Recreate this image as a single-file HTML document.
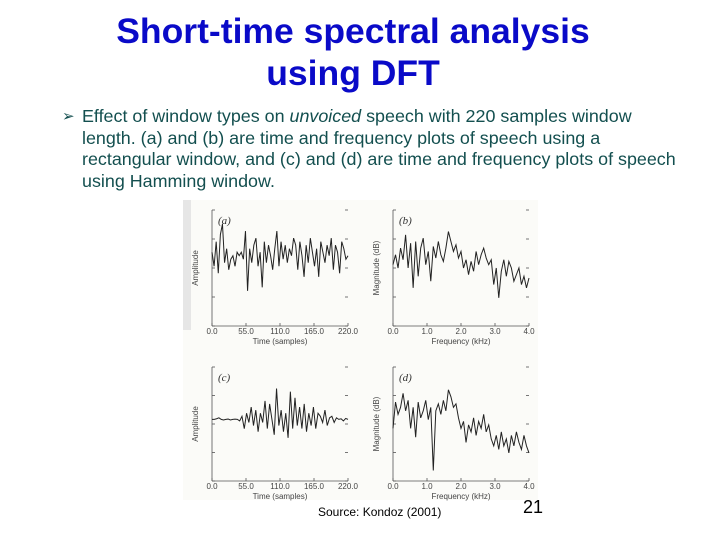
<!DOCTYPE html>
<html><head><meta charset="utf-8"><style>
body{margin:0;width:720px;height:540px;background:#fff;position:relative;overflow:hidden;font-family:"Liberation Sans",Arial,sans-serif}
.t{position:absolute;left:0;width:706px;text-align:center;color:#0a0ac8;font-weight:bold;font-size:35.5px;line-height:42px}
.b{position:absolute;left:82px;top:106px;width:630px;color:#134f4f;font-size:17.9px;line-height:21.7px;white-space:nowrap}
.ar{position:absolute;left:62px;top:106px;color:#134f4f;font-size:15px;line-height:22px}
</style></head><body>
<div class="t" style="top:10px">Short-time spectral analysis<br>using DFT</div>
<div class="ar">➢</div>
<div class="b">Effect of window types on <i>unvoiced</i> speech with 220 samples window<br>length. (a) and (b) are time and frequency plots of speech using a<br>rectangular window, and (c) and (d) are time and frequency plots of speech<br>using Hamming window.</div>
<svg id="fig" width="720" height="540" style="position:absolute;left:0;top:0">
<rect x="183" y="200" width="355" height="300" fill="#fbfbf8"/>
<rect x="183" y="200" width="8" height="130" fill="#e6e6e6"/>
</svg>
<div style="position:absolute;left:318px;top:505px;font-size:12px;color:#000">Source: Kondoz (2001)</div>
<div style="position:absolute;left:523px;top:497px;font-size:18px;color:#000">21</div>
<script>
const timeTicks=["0.0","55.0","110.0","165.0","220.0"];
const freqTicks=["0.0","1.0","2.0","3.0","4.0"];
const seriesA=[0.1,-0.3,0.4,-0.5,0.6,0.9,-0.2,0.2,-0.4,-0.1,0.0,-0.3,0.1,0.0,0.1,-0.1,0.7,-1.0,0.2,-0.2,0.3,0.5,-0.3,0.1,-0.9,0.4,-0.2,0.3,0.0,-0.4,0.2,0.7,-0.3,0.4,-0.1,0.3,-0.2,0.2,0.0,0.5,0.3,-0.4,0.4,0.0,-0.6,0.3,-0.2,0.5,0.1,-0.3,0.2,-0.6,0.4,0.1,-0.2,0.3,0.0,0.5,-0.4,0.3,0.1,-0.5,0.4,0.2,-0.1,0.0];
const seriesB=[-28,-22,-30,-18,-25,-10,-30,-15,-42,-14,-35,-18,-12,-28,-20,-38,-17,-24,-14,-22,-26,-18,-8,-14,-20,-16,-24,-20,-30,-25,-34,-26,-32,-20,-28,-22,-18,-24,-28,-25,-40,-30,-48,-32,-25,-35,-26,-30,-38,-34,-30,-40,-35,-42,-36];
const seriesC=[0,0,0.02,0.05,0.0,-0.02,0.0,0.01,-0.02,0.0,0.01,0.0,-0.05,0.1,-0.3,0.2,-0.1,0.4,-0.2,0.3,-0.4,0.2,-0.1,0.6,-0.3,0.5,0.0,-0.5,1.0,-0.2,0.3,-0.4,0.2,-0.6,0.9,-0.3,0.7,-0.2,0.4,-0.3,0.5,-0.4,0.2,-0.2,0.4,-0.3,0.2,0.1,-0.1,0.3,-0.2,0.05,0.1,-0.1,0.05,0.0,0.02,-0.05,0.03,0.0];
const seriesD=[-30,-15,-22,-18,-10,-20,-14,-30,-18,-35,-15,-24,-20,-14,-25,-18,-54,-20,-16,-22,-14,-20,-8,-12,-18,-16,-24,-30,-26,-38,-28,-32,-24,-34,-26,-30,-22,-32,-28,-36,-40,-34,-42,-32,-40,-36,-44,-34,-40,-32,-38,-42,-34,-40,-44];
const S="http://www.w3.org/2000/svg",svg=document.getElementById('fig');
function el(t,a,p){const e=document.createElementNS(S,t);for(const k in a)e.setAttribute(k,a[k]);(p||svg).appendChild(e);return e;}
function panel(name,x0,x1,y0,y1,data,dmin,dmax,ticks,xt,yt,lab){
 const g=el('g',{});
 
 
 const st={stroke:'#555','stroke-width':0.8};
 el('line',Object.assign({x1:x0,y1:y0,x2:x0,y2:y1},st),g);
 el('line',Object.assign({x1:x0,y1:y1,x2:x1,y2:y1},st),g);
 for(let i=0;i<5;i++){const x=x0+(x1-x0)*i/4;el('line',Object.assign({x1:x,y1:y1,x2:x,y2:y1-3},st),g);
  const t=el('text',{x:x,y:y1+8,'font-size':8,'text-anchor':'middle',fill:'#444'},g);t.textContent=ticks[i];
  const yy=y0+(y1-y0)*i/4;el('line',Object.assign({x1:x0,y1:yy,x2:x0+3,y2:yy},st),g);el('line',Object.assign({x1:x1,y1:yy,x2:x1-3,y2:yy},st),g);}
 const xa=el('text',{x:(x0+x1)/2,y:y1+18,'font-size':8,'text-anchor':'middle',fill:'#444'},g);xa.textContent=xt;
 const ya=el('text',{x:x0-14,y:(y0+y1)/2,'font-size':8,'text-anchor':'middle',fill:'#444',transform:`rotate(-90 ${x0-14} ${(y0+y1)/2})`},g);ya.textContent=yt;
 const lb=el('text',{x:x0+6,y:y0+14,'font-size':11,'font-style':'italic','font-family':'Liberation Serif',fill:'#333'},g);lb.textContent=lab;
 const sx=i=>x0+(x1-x0)*i/(data.length-1), sy=v=>y1-(v-dmin)/(dmax-dmin)*(y1-y0);
 const pl=el('polyline',{points:data.map((v,i)=>sx(i)+','+sy(v)).join(' '),fill:'none',stroke:'#222','stroke-width':1},g);
 
 
}
panel('panel-a',212,348,210,326,seriesA,-2,1.3,timeTicks,'Time (samples)','Amplitude','(a)');
panel('panel-b',393,529,210,326,seriesB,-65,5,freqTicks,'Frequency (kHz)','Magnitude (dB)','(b)');
panel('panel-c',212,348,367,481,seriesC,-2,1.7,timeTicks,'Time (samples)','Amplitude','(c)');
panel('panel-d',393,529,367,481,seriesD,-60,5,freqTicks,'Frequency (kHz)','Magnitude (dB)','(d)');
</script>
</body></html>
